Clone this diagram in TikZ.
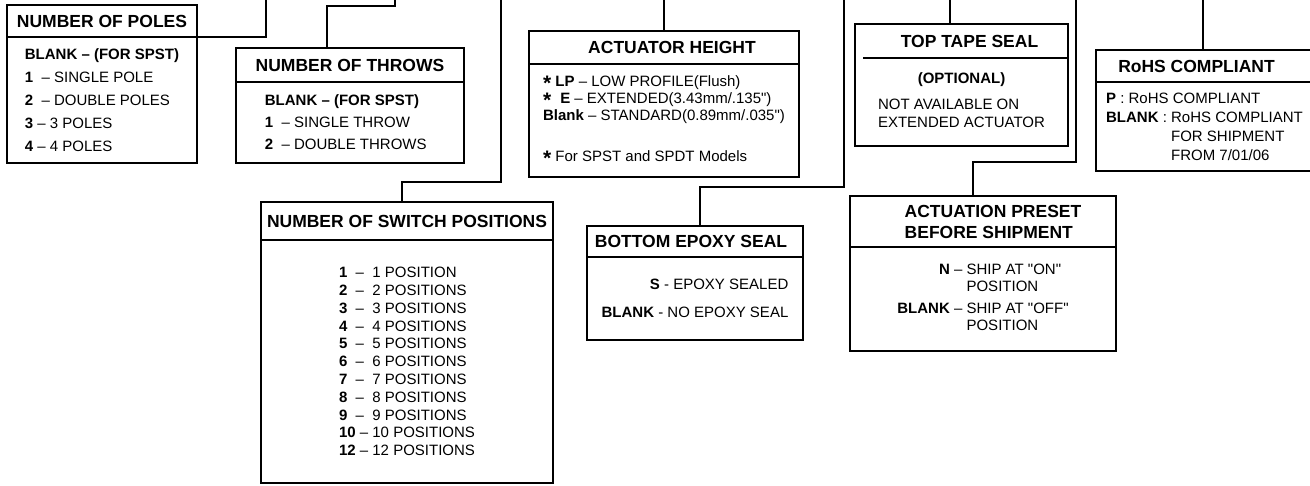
\documentclass[tikz,border=0pt]{standalone}
\usepackage{fontspec}
\setmainfont{Liberation Sans}[Ligatures=TeXOff]
\usepackage{tikz}
\usetikzlibrary{positioning,calc}
\newcommand{\bigast}{\raisebox{-4pt}{\fontsize{21}{21}\selectfont\bfseries *}}
\tikzset{
    headbox/.style={rectangle, draw, line width=2.4pt, outer sep=0pt, inner sep=2pt,
                    font=\fontsize{17.5}{21}\selectfont\bfseries},
    bodybox/.style={rectangle, draw, line width=2.4pt, outer sep=0pt, inner sep=2pt},
    line/.style={draw, line width=2.4pt},
}

\begin{document}
\begin{tikzpicture}[x=1pt, y=-1pt]
        \useasboundingbox (0,0) rectangle (1310,485);

        % Lead ends at the top edge and kinks
        \coordinate (polesT)  at (266,-3);
        \coordinate (throwsK) at (327,6);
        \coordinate (throwsT) at (395,-3);
        \coordinate (switchK) at (402,182);
        \coordinate (switchT) at (501,-3);
        \coordinate (actT)    at (664,-3);
        \coordinate (epoxyK)  at (700,187);
        \coordinate (epoxyT)  at (844,-3);
        \coordinate (tapeT)   at (950,-3);
        \coordinate (presetK) at (973,162);
        \coordinate (presetT) at (1076,-3);
        \coordinate (rohsT)   at (1203,-3);

        % Number of poles
        \node [headbox, minimum width=190pt, minimum height=32pt, anchor=north west] (polesH) at (7,5) {NUMBER OF POLES};
        \node [bodybox, minimum width=190pt, minimum height=126pt, below=0pt of polesH, align=left,
               font=\fontsize{15}{23}\selectfont] (polesB)
              {\textbf{BLANK – (FOR SPST)}\\ \textbf{1} \ – SINGLE POLE\\ \textbf{2} \ – DOUBLE POLES\\
               \textbf{3} – 3 POLES\\ \textbf{4} – 4 POLES};

        % Number of throws
        \node [headbox, minimum width=228pt, minimum height=34pt, anchor=north west] (throwsH) at (236,48) {NUMBER OF THROWS};
        \node [bodybox, minimum width=228pt, minimum height=81pt, below=0pt of throwsH, align=left,
               font=\fontsize{15}{22}\selectfont] (throwsB)
              {\textbf{BLANK – (FOR SPST)}\hspace*{16pt}\\ \textbf{1} \ – SINGLE THROW\\ \textbf{2} \ – DOUBLE THROWS};

        % Number of switch positions
        \node [headbox, minimum width=292pt, minimum height=38pt, anchor=north west] (switchH) at (261,202) {NUMBER OF SWITCH POSITIONS};
        \node [bodybox, minimum width=292pt, minimum height=243pt, below=0pt of switchH, align=left,
               font=\fontsize{15}{17.8}\selectfont] (switchB)
              {\textbf{1} \ – \ 1 POSITION\\ \textbf{2} \ – \ 2 POSITIONS\\ \textbf{3} \ – \ 3 POSITIONS\\
               \textbf{4} \ – \ 4 POSITIONS\\ \textbf{5} \ – \ 5 POSITIONS\\ \textbf{6} \ – \ 6 POSITIONS\\
               \textbf{7} \ – \ 7 POSITIONS\\ \textbf{8} \ – \ 8 POSITIONS\\ \textbf{9} \ – \ 9 POSITIONS\\
               \textbf{10} – 10 POSITIONS\\ \textbf{12} – 12 POSITIONS};

        % Actuator height
        \node [headbox, minimum width=270pt, minimum height=33pt, anchor=north west] (actH) at (529,31) {\hspace*{16pt}ACTUATOR HEIGHT};
        \node [bodybox, minimum width=270pt, minimum height=113pt, below=0pt of actH, align=left,
               font=\fontsize{15}{17}\selectfont] (actB)
              {\bigast\ \textbf{LP} – LOW PROFILE(Flush)\\
               \bigast\hspace{9pt}\textbf{E} – EXTENDED(3.43mm/.135")\\
               \textbf{Blank} – STANDARD(0.89mm/.035")\\[24pt]
               \bigast\ For SPST and SPDT Models};

        % Bottom epoxy seal
        \node [headbox, minimum width=216pt, minimum height=31pt, anchor=north west] (epoxyH) at (587,226) {BOTTOM EPOXY SEAL\hspace*{8pt}};
        \node [bodybox, minimum width=216pt, minimum height=83pt, below=0pt of epoxyH, align=right,
               font=\fontsize{15}{18}\selectfont] (epoxyB)
              {\textbf{S} - EPOXY SEALED\\[10pt] \textbf{BLANK} - NO EPOXY SEAL};

        % Top tape seal (divider stops short of the left side)
        \node [headbox, draw=none, minimum width=213pt, minimum height=34pt, anchor=north west] (tapeH) at (855,24) {\hspace*{16pt}TOP TAPE SEAL};
        \node [bodybox, draw=none, minimum width=213pt, minimum height=88pt, below=0pt of tapeH,
               font=\fontsize{15}{18}\selectfont] (tapeB)
              {\begin{tabular}{@{}l@{}}
               \multicolumn{1}{@{}c@{}}{\textbf{(OPTIONAL)}}\\[8pt]
               NOT AVAILABLE ON\\
               EXTENDED ACTUATOR
               \end{tabular}};
        \draw[line] (tapeH.north west) rectangle (tapeB.south east);
        \draw[line] ([xshift=8pt]tapeH.south west) -- (tapeH.south east);

        % Actuation preset
        \node [headbox, minimum width=266pt, minimum height=51pt, anchor=north west, align=left] (presetH) at (850,196)
              {\hspace*{20pt}ACTUATION PRESET\\\hspace*{20pt}BEFORE SHIPMENT};
        \node [bodybox, minimum width=266pt, minimum height=104pt, below=0pt of presetH,
               font=\fontsize{15}{17}\selectfont] (presetB)
              {\begin{tabular}{@{}r@{}l@{}}
               \textbf{N} & \ – SHIP AT "ON"\\
               & \phantom{\ – }POSITION\\[5pt]
               \textbf{BLANK} & \ – SHIP AT "OFF"\\
               & \phantom{\ – }POSITION
               \end{tabular}};

        % RoHS
        \node [headbox, minimum width=217pt, minimum height=32pt, anchor=north west] (rohsH) at (1096,50) {RoHS COMPLIANT\hspace*{16pt}};
        \node [bodybox, minimum width=217pt, minimum height=89pt, below=0pt of rohsH, align=left,
               font=\fontsize{15}{19}\selectfont] (rohsB)
              {\textbf{P} : RoHS COMPLIANT\\
               \textbf{BLANK} : RoHS COMPLIANT\\
               \phantom{\textbf{BLANK} : }FOR SHIPMENT\\
               \phantom{\textbf{BLANK} : }FROM 7/01/06};

        % Leads
        \draw[line] (polesH.south east) -| (polesT);
        \draw[line] (throwsK |- throwsH.north) -- (throwsK) -| (throwsT);
        \draw[line] (switchK |- switchH.north) -- (switchK) -| (switchT);
        \draw[line] (actT |- actH.north) -- (actT);
        \draw[line] (epoxyK |- epoxyH.north) -- (epoxyK) -| (epoxyT);
        \draw[line] (tapeT |- tapeH.north) -- (tapeT);
        \draw[line] (presetK |- presetH.north) -- (presetK) -| (presetT);
        \draw[line] (rohsT |- rohsH.north) -- (rohsT);
\end{tikzpicture}
\end{document}
